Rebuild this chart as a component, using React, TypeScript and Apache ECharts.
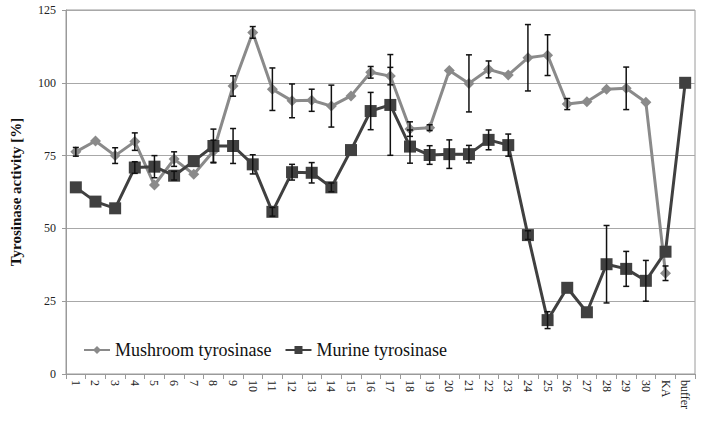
import React, { useEffect, useRef } from "react";
import * as echarts from "echarts";

const categories = [
  "1","2","3","4","5","6","7","8","9","10","11","12","13","14","15","16","17","18","19","20",
  "21","22","23","24","25","26","27","28","29","30","KA","buffer",
];
const mushroom = [
  76.3, 80.0, 75.0, 79.8, 64.9, 73.8, 68.6, 76.5, 98.9, 117.3, 97.8, 93.8, 94.0, 92.0, 95.5, 103.6,
  102.3, 84.1, 84.6, 104.2, 99.8, 104.6, 102.7, 108.6, 109.5, 92.7, 93.5, 97.8, 98.1, 93.3, 34.6, null,
];
const mushroomErr = [
  1.5, 0, 2.7, 3.0, 0, 2.5, 0, 3.8, 3.5, 2.0, 7.3, 5.8, 3.8, 7.2, 0, 2.0,
  3.0, 2.5, 1.0, 0, 9.8, 2.9, 0, 11.4, 7.0, 1.9, 0, 0, 7.3, 0, 2.5, 0,
];
const murine = [
  64.1, 59.2, 56.9, 70.9, 71.2, 68.1, 73.1, 78.3, 78.3, 72.0, 55.7, 69.3, 69.1, 64.1, 76.9, 90.3,
  92.4, 78.1, 75.2, 75.5, 75.5, 80.4, 78.6, 47.7, 18.5, 29.6, 21.2, 37.7, 36.1, 32.0, 42.0, 100.0,
];
const murineErr = [
  0, 0, 0, 2.0, 3.8, 1.5, 0, 5.8, 6.0, 3.3, 1.5, 2.7, 3.5, 1.5, 0, 6.4,
  17.3, 5.7, 3.2, 4.9, 3.0, 3.4, 3.8, 1.5, 2.9, 0, 0, 13.3, 6.0, 7.0, 0, 0,
];
const yTicks = [0, 25, 50, 75, 100, 125];

const FONT = "Liberation Serif";

function errData(vals: (number | null)[], errs: number[]) {
  const out: number[][] = [];
  vals.forEach((v, i) => {
    if (v != null && errs[i] > 0) out.push([i, v - errs[i], v + errs[i]]);
  });
  return out;
}

const renderErr = (params: any, api: any) => {
  const x = api.value(0);
  const lo = api.coord([x, api.value(1)]);
  const hi = api.coord([x, api.value(2)]);
  const w = 3;
  const style = { stroke: "#111", lineWidth: 1.5 };
  return {
    type: "group",
    children: [
      { type: "line", shape: { x1: hi[0], y1: hi[1], x2: lo[0], y2: lo[1] }, style },
      { type: "line", shape: { x1: hi[0] - w, y1: hi[1], x2: hi[0] + w, y2: hi[1] }, style },
      { type: "line", shape: { x1: lo[0] - w, y1: lo[1], x2: lo[0] + w, y2: lo[1] }, style },
    ],
  };
};

export default function App() {
  const ref = useRef<HTMLDivElement>(null);
  useEffect(() => {
    if (!ref.current) return;
    const chart = echarts.init(ref.current, null, { renderer: "svg" });
    chart.setOption({
      animation: false,
      backgroundColor: "#fff",
      textStyle: { fontFamily: FONT },
      grid: {
        left: 56, right: 7, top: 10, bottom: 57,
        show: true, borderColor: "#9a9a9a", borderWidth: 1,
      },
      legend: {
        data: ["Mushroom tyrosinase", "Murine tyrosinase"],
        left: 78, top: 336,
        itemWidth: 26, itemHeight: 10, itemGap: 13,
        textStyle: { fontFamily: FONT, fontSize: 18, color: "#111" },
      },
      xAxis: {
        type: "category",
        data: categories,
        boundaryGap: true,
        axisLine: { lineStyle: { color: "#9a9a9a" } },
        axisTick: { show: true, interval: 0, length: 5, lineStyle: { color: "#9a9a9a" } },
        axisLabel: {
          interval: 0, rotate: -90, margin: 6,
          fontFamily: FONT, fontSize: 12, color: "#222",
        },
      },
      yAxis: {
        type: "value",
        min: yTicks[0], max: yTicks[yTicks.length - 1], interval: 25,
        name: "Tyrosinase activity [%]",
        nameLocation: "middle", nameGap: 43,
        nameTextStyle: { fontFamily: FONT, fontSize: 15, fontWeight: "bold", color: "#111" },
        axisLine: { show: true, lineStyle: { color: "#9a9a9a" } },
        axisTick: { show: true, length: 4, lineStyle: { color: "#9a9a9a" } },
        axisLabel: { fontFamily: FONT, fontSize: 12, color: "#222", margin: 10 },
        splitLine: { lineStyle: { color: "#a8a8a8", width: 1 } },
      },
      series: [
        {
          name: "Mushroom tyrosinase",
          type: "line",
          data: mushroom,
          symbol: "diamond", symbolSize: 11,
          lineStyle: { color: "#8a8a8a", width: 3 },
          itemStyle: { color: "#8a8a8a" },
          z: 2,
        },
        {
          name: "Murine tyrosinase",
          type: "line",
          data: murine,
          symbol: "rect", symbolSize: 12,
          lineStyle: { color: "#404040", width: 3 },
          itemStyle: { color: "#404040" },
          z: 3,
        },
        {
          name: "errMushroom",
          type: "custom",
          renderItem: renderErr,
          data: errData(mushroom, mushroomErr),
          encode: { x: 0, y: [1, 2] },
          z: 5,
        },
        {
          name: "errMurine",
          type: "custom",
          renderItem: renderErr,
          data: errData(murine, murineErr),
          encode: { x: 0, y: [1, 2] },
          z: 5,
        },
      ],
    });
    return () => chart.dispose();
  }, []);
  return (
    <div
      ref={ref}
      style={{ position: "absolute", left: 0, top: 0, width: 702, height: 431 }}
    />
  );
}
